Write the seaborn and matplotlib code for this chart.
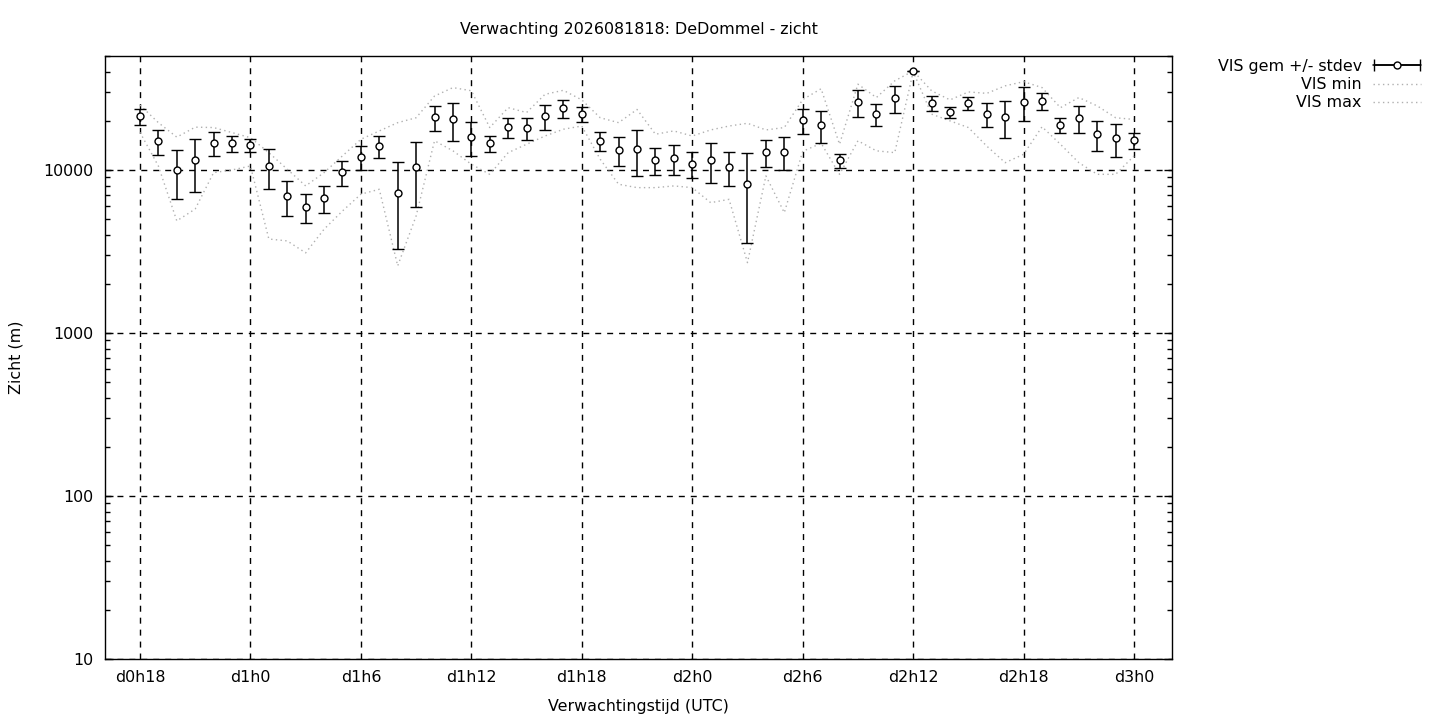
import numpy as np
import pandas as pd
import matplotlib
matplotlib.use("Agg")
import matplotlib.pyplot as plt
import seaborn as sns
from matplotlib.ticker import FixedLocator, LogLocator, NullFormatter
from matplotlib.legend_handler import HandlerErrorbar

# ------------ DATA ------------
hours = [18, 19, 20, 21, 22, 23, 24, 25, 26, 27, 28, 29, 30, 31, 32, 33, 34, 35,
         36, 37, 38, 39, 40, 41, 42, 43, 44, 45, 46, 47, 48, 49, 50, 51, 52, 53,
         54, 55, 56, 57, 58, 59, 60, 61, 62, 63, 64, 65, 66, 67, 68, 69, 70, 71, 72]

vis_mean = [21300, 15000, 9960, 11470, 14580, 14580, 14190, 10540, 6900, 5900,
            6700, 9680, 11970, 13970, 7200, 10390, 21030, 20460,
            15850, 14580, 18280, 18020, 21300, 23880, 21980, 15000, 13210, 13400,
            11470, 11800, 10840, 11470, 10390, 8170, 12870, 12870,
            20180, 18800, 11470, 26000, 21980, 27540, 40360, 25700, 22600, 25700,
            21980, 21030, 26000, 26380, 18800, 20750, 16560, 15640, 15200]

vis_std = [2470, 2645, 3360, 4120, 2430, 1615, 1385, 2860, 1660, 1195,
           1260, 1685, 2005, 2150, 3920, 4450, 3710, 5400,
           3735, 1615, 2555, 2670, 3710, 3015, 2370, 2020, 2655, 4215,
           2155, 2450, 1975, 3150, 2465, 4610, 2405, 2945,
           3475, 4190, 1120, 4765, 3360, 5130, 0, 2550, 1765, 2345,
           3710, 5370, 6160, 3150, 1960, 3910, 3420, 3590, 1715]

vis_min = [17000, 10570, 4870, 5760, 9630, 10000, 10570, 3770, 3670, 3100,
           4330, 5600, 7100, 7610, 2580, 5220, 15100, 13100,
           10840, 9400, 12770, 14370, 16150, 17770, 18600, 11630, 8170, 7790,
           7790, 7980, 7790, 6300, 6600, 2700, 9200, 5470,
           13000, 14580, 9400, 15100, 13100, 12770, 40000, 22000, 20000, 18200,
           14000, 11080, 12480, 18400, 14370, 11080, 9400, 9400, 12200]

vis_max = [25000, 19500, 15900, 18300, 18200, 16950, 15770, 12770, 10100, 7980,
           9630, 12200, 15420, 17350, 19500, 20900, 28400, 32000,
           30600, 18200, 24100, 22500, 29100, 30800, 26900, 20900, 19500, 23500,
           16560, 17350, 16150, 17600, 18600, 19330, 17600, 18200,
           27000, 31500, 14370, 33600, 27800, 35200, 40500, 30600, 26900, 30100,
           29500, 32800, 34800, 32000, 24100, 27800, 24700, 20900, 20400]

tick_hours = [18, 24, 30, 36, 42, 48, 54, 60, 66, 72]
tick_labels = ["d0h18", "d1h0", "d1h6", "d1h12", "d1h18",
               "d2h0", "d2h6", "d2h12", "d2h18", "d3h0"]

df = pd.DataFrame({"hour": hours, "mean": vis_mean, "std": vis_std,
                   "vmin": vis_min, "vmax": vis_max})

# ------------ PLOT ------------
sns.set_style("white")
plt.rcParams["font.family"] = ["DejaVu Sans"]
plt.rcParams["font.size"] = 11.4
for key in ["text.color", "axes.labelcolor", "xtick.color", "ytick.color", "axes.edgecolor"]:
    plt.rcParams[key] = "black"

fig = plt.figure(figsize=(14.4, 7.2), dpi=100)
ax = fig.add_axes([105 / 1440, 1 - 659 / 720, (1172 - 105) / 1440, (659 - 56) / 720])

# min / max as grey dotted lines
sns.lineplot(data=df, x="hour", y="vmin", ax=ax, color="#b0b0b0",
             linestyle=(0, (1, 2.4)), linewidth=1.0, label="VIS min")
sns.lineplot(data=df, x="hour", y="vmax", ax=ax, color="#b0b0b0",
             linestyle=(0, (1, 2.4)), linewidth=1.0, label="VIS max")

# mean +/- stdev
ax.errorbar(df["hour"], df["mean"], yerr=df["std"], fmt="o", color="black",
            mfc="white", mec="black", ms=5, mew=1, elinewidth=1.1,
            capsize=4, capthick=1.1, zorder=5)

# legend proxy: horizontal errorbar like gnuplot's key sample
proxy = ax.errorbar([np.nan], [np.nan], xerr=[1], fmt="-o", color="black",
                    mfc="white", mec="black", ms=5, mew=1, lw=1.1,
                    capsize=4, capthick=1.1, label="VIS gem +/- stdev")

ax.set_yscale("log")
ax.set_ylim(10, 50000)
ax.set_xlim(16.1, 74.06)

ax.xaxis.set_major_locator(FixedLocator(tick_hours))
ax.set_xticklabels(tick_labels)
ax.yaxis.set_major_locator(FixedLocator([10, 100, 1000, 10000]))
ax.set_yticklabels(["10", "100", "1000", "10000"])
ax.yaxis.set_minor_locator(LogLocator(base=10, subs=np.arange(2, 10)))
ax.yaxis.set_minor_formatter(NullFormatter())

ax.tick_params(axis="x", which="major", direction="in", length=0, pad=8, labelsize=11.4)
ax.tick_params(axis="y", which="major", direction="in", length=6, width=1,
               left=True, right=True, pad=8.5, labelsize=11.4)
ax.tick_params(axis="y", which="minor", direction="in", length=3.5, width=1,
               left=True, right=True)

ax.grid(True, which="major", color="black", linestyle=(0, (4.3, 4.3)), linewidth=1.0)
for s in ax.spines.values():
    s.set_color("black")
    s.set_linewidth(1.0)

ax.set_title("Verwachting 2026081818: DeDommel - zicht", fontsize=11.4, pad=16)
ax.set_xlabel("Verwachtingstijd (UTC)", fontsize=11.4, labelpad=10)
ax.set_ylabel("Zicht (m)", fontsize=11.4, labelpad=14)

handles, labels = ax.get_legend_handles_labels()
order = ["VIS gem +/- stdev", "VIS min", "VIS max"]
hmap = dict(zip(labels, handles))
hlen = 3.05
ax.legend([hmap[k] for k in order], order, loc="upper right",
          bbox_to_anchor=(1421 / 1440, 1 - 59 / 720), bbox_transform=fig.transFigure,
          markerfirst=False, frameon=False, fontsize=11.4, handlelength=hlen,
          handletextpad=0.7, labelspacing=0.2, borderaxespad=0, borderpad=0,
          handler_map={proxy: HandlerErrorbar(xerr_size=hlen / 2 - 0.05)})

fig.savefig("out.png", dpi=100)
